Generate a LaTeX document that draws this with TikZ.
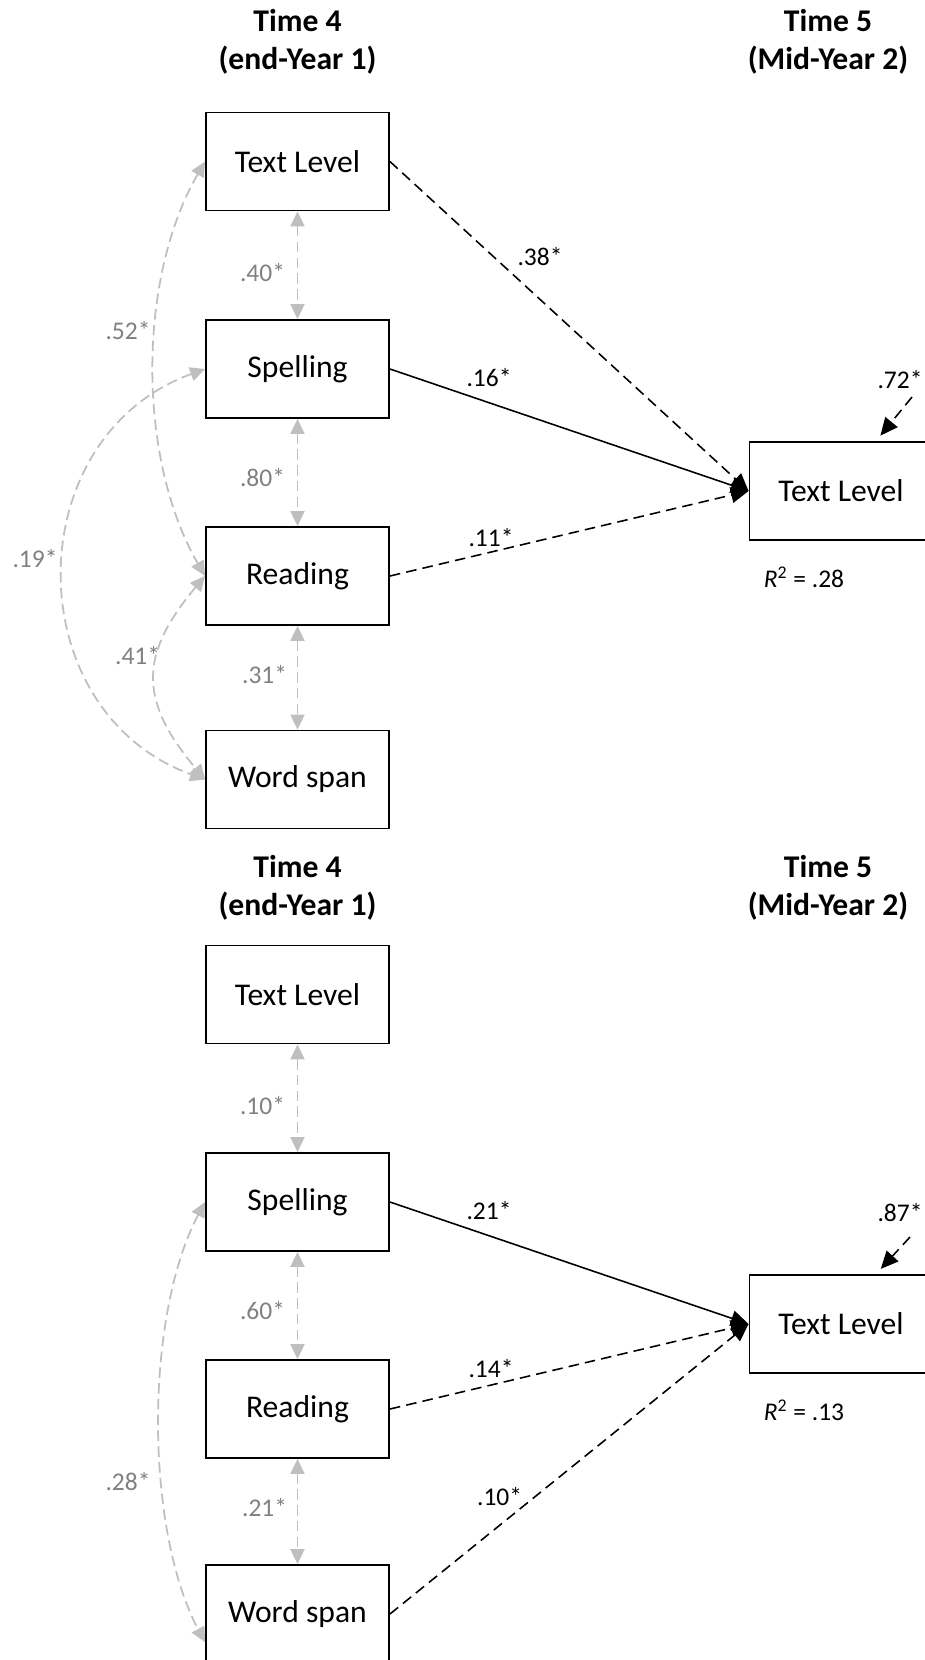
\documentclass[tikz,border=0pt]{standalone}
\usepackage{fontspec}
\setmainfont{Carlito}
\usetikzlibrary{arrows.meta}
\definecolor{covline}{RGB}{191,191,191}
\definecolor{covtext}{RGB}{128,128,128}
\tikzset{
  var/.style={draw, line width=1.1pt, minimum width=3.66cm, minimum height=1.96cm,
    inner sep=0pt, font=\fontsize{18}{21}\selectfont},
  hdr/.style={align=center, inner sep=0pt, font=\fontsize{18}{21.6}\selectfont\bfseries},
  coef/.style={inner sep=0pt, font=\fontsize{14.5}{17}\selectfont},
  covlab/.style={coef, text=covtext},
  reg/.style={line width=0.9pt, -{Triangle[length=10pt,width=9pt]}},
  regdash/.style={reg, dash pattern=on 6pt off 3.5pt},
  cov/.style={draw=covline, line width=1pt, dash pattern=on 6pt off 3pt,
    {Triangle[length=8.5pt,width=8pt]}-{Triangle[length=8.5pt,width=8pt]}}
}
\begin{document}
\begin{tikzpicture}[x=0.02cm, y=0.02cm]
    % 画布大小
    \useasboundingbox (0,0) rectangle (925,-1660);
    \clip (0,0) rectangle (925,-1660);

    % ===== 上图 =====
    % 时间标题
    \node[hdr] (t4a) at (297.5,-42) {Time 4\\(end-Year 1)};
    \node[hdr] (t5a) at (828,-42) {Time 5\\(Mid-Year 2)};

    % 变量方框
    \node[var] (tl1) at (297.5,-161.5) {Text Level};
    \node[var] (sp1) at (297.5,-369) {Spelling};
    \node[var] (rd1) at (297.5,-576) {Reading};
    \node[var] (ws1) at (297.5,-779.5) {Word span};
    \node[var] (out1) at (841,-491) {Text Level};

    % 相关 (灰色双向箭头)
    \draw[cov] (tl1.south) -- (sp1.north);
    \draw[cov] (sp1.south) -- (rd1.north);
    \draw[cov] (rd1.south) -- (ws1.north);
    \draw[cov] (tl1.west) to[out=240,in=120,looseness=0.84] (rd1.west);
    \draw[cov] (sp1.west) to[out=200,in=160,looseness=1.25] (ws1.west);
    \draw[cov] (rd1.west) to[out=230,in=130,looseness=1.3] (ws1.west);
    \node[covlab] (c40) at (262.5,-273) {.40*};
    \node[covlab] (c80) at (262.5,-478) {.80*};
    \node[covlab] (c31) at (264.6,-675) {.31*};
    \node[covlab] (c52) at (128,-331) {.52*};
    \node[covlab] (c19) at (35,-559) {.19*};
    \node[covlab] (c41) at (137.6,-656) {.41*};

    % 路径系数
    \draw[regdash] (tl1.east) -- (out1.west);
    \draw[reg] (sp1.east) -- (out1.west);
    \draw[regdash] (rd1.east) -- (out1.west);
    \node[coef] (p38) at (540,-257) {.38*};
    \node[coef] (p16) at (489,-378) {.16*};
    \node[coef] (p11) at (491,-538) {.11*};

    % 残差与 R^2
    \coordinate (e1) at (912,-397);
    \draw[regdash, shorten >=0.14cm] (e1) -- (out1.55);
    \node[coef] (u72) at (900,-380) {.72*};
    \node[coef] (r2a) at (804,-577) {\textit{R}\textsuperscript{2} = .28};

    % ===== 下图 =====
    % 时间标题
    \node[hdr] (t4b) at (297.5,-888) {Time 4\\(end-Year 1)};
    \node[hdr] (t5b) at (828,-888) {Time 5\\(Mid-Year 2)};

    % 变量方框
    \node[var] (tl2) at (297.5,-994.5) {Text Level};
    \node[var] (sp2) at (297.5,-1202) {Spelling};
    \node[var] (rd2) at (297.5,-1409) {Reading};
    \node[var] (ws2) at (297.5,-1614) {Word span};
    \node[var] (out2) at (841,-1324) {Text Level};

    % 相关 (灰色双向箭头)
    \draw[cov] (tl2.south) -- (sp2.north);
    \draw[cov] (sp2.south) -- (rd2.north);
    \draw[cov] (rd2.south) -- (ws2.north);
    \draw[cov] (sp2.west) to[out=242,in=118,looseness=0.75] (ws2.197);
    \node[covlab] (c10) at (262.5,-1106) {.10*};
    \node[covlab] (c60) at (262.5,-1311) {.60*};
    \node[covlab] (c21) at (264.6,-1508) {.21*};
    \node[covlab] (c28) at (128,-1482) {.28*};

    % 路径系数
    \draw[reg] (sp2.east) -- (out2.west);
    \draw[regdash] (rd2.east) -- (out2.west);
    \draw[regdash] (ws2.east) -- (out2.west);
    \node[coef] (p21) at (489,-1211) {.21*};
    \node[coef] (p14) at (491,-1368.5) {.14*};
    \node[coef] (p10) at (499.6,-1497) {.10*};

    % 残差与 R^2
    \coordinate (e2) at (910,-1237);
    \draw[regdash, shorten >=0.14cm] (e2) -- (out2.55);
    \node[coef] (u87) at (900,-1213) {.87*};
    \node[coef] (r2b) at (804,-1410) {\textit{R}\textsuperscript{2} = .13};
\end{tikzpicture}
\end{document}
